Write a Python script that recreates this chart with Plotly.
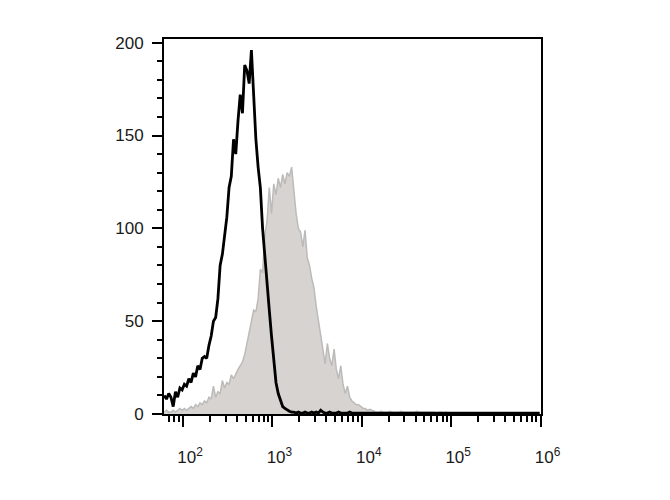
import numpy as np
import plotly.graph_objects as go

# channel positions (log10 of fluorescence), 0.025-decade bins
channels_log = np.round(np.arange(1.79, 6.0, 0.025), 3)

# black outline histogram (control)
black_counts = [
    10, 8, 11, 9, 4, 12, 9, 14, 13, 16,
    15, 19, 17, 22, 20, 26, 24, 30, 31, 30,
    37, 42, 50, 52, 62, 80, 86, 96, 106, 122,
    128, 148, 140, 158, 172, 162, 188, 185, 178, 196,
    172, 148, 133, 122, 100, 84, 72, 56, 42, 28,
    17, 11, 7, 4, 3, 2, 1.5, 1, 1, 0.5,
    1, 0.5, 0.5, 1, 0.5, 0.5, 1, 0.5, 1, 0.5,
    2, 1, 0.5, 0.5, 1, 0.5, 0.5, 0.5, 1, 0.5,
    0.5, 0.5, 0.5, 1, 0.5, 0.5, 0.5, 0.5, 0.5, 0.5,
    0.5, 0.5, 0.5, 0.5, 0.5, 0.5, 0.5, 0.5, 0.5, 0.5,
    0.5, 0.5, 0.5, 0.5, 0.5, 0.5, 0.5, 0.5, 0.5, 0.5,
    0.5, 0.5, 0.5, 0.5, 0.5, 0.5, 0.5, 0.5, 0.5, 0.5,
    0.5, 0.5, 0.5, 0.5, 0.5, 0.5, 0.5, 0.5, 0.5, 0.5,
    0.5, 0.5, 0.5, 0.5, 0.5, 0.5, 0.5, 0.5, 0.5, 0.5,
    0.5, 0.5, 0.5, 0.5, 0.5, 0.5, 0.5, 0.5, 0.5, 0.5,
    0.5, 0.5, 0.5, 0.5, 0.5, 0.5, 0.5, 0.5, 0.5, 0.5,
    0.5, 0.5, 0.5, 0.5, 0.5, 0.5, 0.5, 0.5, 0.5,
]

# gray filled histogram (stained)
gray_counts = [
    1, 2, 1, 1, 2, 1, 2, 3, 2, 3,
    2, 3, 4, 3, 5, 4, 6, 5, 7, 6,
    9, 8, 15, 9, 12, 11, 18, 14, 17, 16,
    21, 19, 22, 24, 26, 28, 32, 38, 43, 50,
    56, 55, 62, 78, 76, 96, 104, 122, 108, 124,
    118, 127, 122, 129, 124, 130, 128, 133, 118, 108,
    100, 98, 90, 99, 84, 80, 73, 68, 58, 50,
    42, 36, 27, 38, 30, 26, 35, 24, 19, 26,
    16, 11, 15, 9, 7, 6, 5, 5, 4, 3,
    3, 2, 2.5, 2, 1.5, 1, 1, 1.5, 1, 1,
    1, 1.5, 1, 1, 1, 1, 1.5, 1, 1, 1,
    1, 1, 1, 1.5, 1, 1, 1, 1, 1, 1,
    1, 1, 0.5, 1, 1, 0.5, 1, 0.5, 0.5, 0.5,
    0.5, 0.5, 0.5, 0.5, 0.5, 0.5, 0.5, 0.5, 0.5, 0.5,
    0.5, 0.5, 0.5, 0.5, 0.5, 0.5, 0.5, 0.5, 0.5, 0.5,
    0.5, 0.5, 0.5, 0.5, 0.5, 0.5, 0.5, 0.5, 0.5, 0.5,
    0.5, 0.5, 0.5, 0.5, 0.5, 0.5, 0.5, 0.5, 0.5,
]

n = min(len(channels_log), len(black_counts), len(gray_counts))
x_vals = 10 ** channels_log[:n]

x_major = [1e2, 1e3, 1e4, 1e5, 1e6]
x_major_text = ["10<sup>2</sup>", "10<sup>3</sup>", "10<sup>4</sup>", "10<sup>5</sup>", "10<sup>6</sup>"]
y_major = [0, 50, 100, 150, 200]

x_minor = [m * 10 ** k for k in range(1, 6) for m in range(2, 10) if m * 10 ** k > 60]

fig = go.Figure()
fig.add_trace(go.Scatter(
    x=x_vals, y=gray_counts[:n], mode="lines",
    line=dict(color="#bcbbba", width=1.5),
    fill="tozeroy", fillcolor="#d6d3d1",
    hoverinfo="skip", showlegend=False,
))
fig.add_trace(go.Scatter(
    x=x_vals, y=black_counts[:n], mode="lines",
    line=dict(color="#000000", width=2.8),
    hoverinfo="skip", showlegend=False,
))

fig.update_layout(
    width=670, height=500,
    margin=dict(l=156, r=137, t=31, b=94),
    paper_bgcolor="white", plot_bgcolor="white",
    font=dict(family="Liberation Sans, Arial, sans-serif", size=17, color="#1a1a1a"),
    showlegend=False,
)
fig.update_xaxes(
    type="log", range=[1.787, 6.005],
    tickmode="array", tickvals=x_major, ticktext=x_major_text,
    ticks="outside", ticklen=11, tickwidth=2, tickcolor="black",
    ticklabelstandoff=16, ticklabelshift=7,
    minor=dict(tickmode="array", tickvals=x_minor, ticks="outside",
               ticklen=6, tickwidth=1.5, tickcolor="black", showgrid=False),
    showline=True, linecolor="black", linewidth=2, mirror=True,
    showgrid=False, zeroline=False,
)
fig.update_yaxes(
    range=[0, 202],
    tickmode="array", tickvals=y_major,
    ticks="outside", ticklen=10, tickwidth=2, tickcolor="black",
    ticklabelstandoff=5,
    minor=dict(dtick=10, tick0=0, ticks="outside", ticklen=5, tickwidth=1.5,
               tickcolor="black", showgrid=False),
    showline=True, linecolor="black", linewidth=2, mirror=True,
    showgrid=False, zeroline=False,
)

fig.write_html("out.html")
